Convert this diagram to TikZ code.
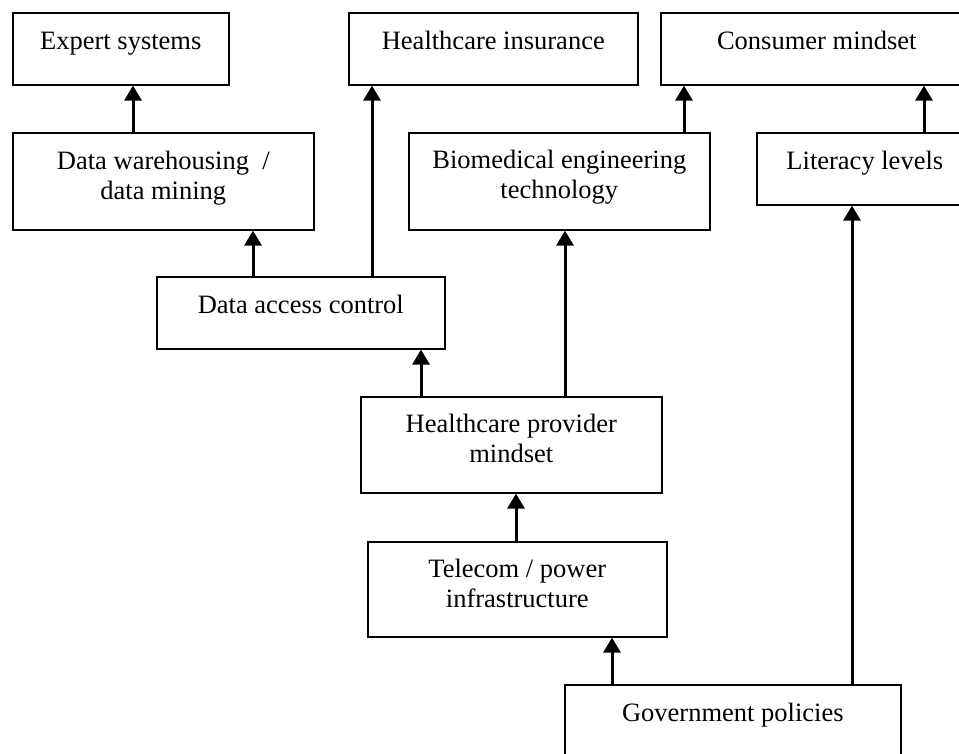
\documentclass[tikz,border=0pt]{standalone}
\usepackage{fontspec}
\setmainfont{Liberation Serif}
\usetikzlibrary{arrows.meta}
\begin{document}
\begin{tikzpicture}[x=1pt,y=-1pt,
  box/.style={draw=black,line width=1.6pt,inner sep=0pt,anchor=north west},
  lbl/.style={inner sep=0pt,align=center,anchor=base,
    font=\fontsize{26.5pt}{29.5pt}\selectfont},
  arr/.style={line width=3pt,-{Triangle[width=17pt,length=15pt]}},
  ln/.style={line width=3pt}]
\useasboundingbox (0,0) rectangle (959,753);
\clip (0,0) rectangle (959,753);
% boxes
\node[box,minimum width=216,minimum height=72] (ex) at (12,12) {};
\node[box,minimum width=289,minimum height=72] (hi) at (348,12) {};
\node[box,minimum width=312,minimum height=72] (cm) at (660,12) {};
\node[box,minimum width=301,minimum height=97] (dw) at (12,132) {};
\node[box,minimum width=301,minimum height=97] (bio) at (408,132) {};
\node[box,minimum width=216,minimum height=72] (lit) at (756,132) {};
\node[box,minimum width=288,minimum height=72] (dac) at (156,276) {};
\node[box,minimum width=301,minimum height=96] (hpm) at (360,396) {};
\node[box,minimum width=299,minimum height=95] (tel) at (367,541) {};
\node[box,minimum width=336,minimum height=90] (gov) at (564,684) {};
% labels (base anchor = last line)
\node[lbl] (ex-t) at ([yshift=-37pt]ex.north) {Expert systems};
\node[lbl] (hi-t) at ([yshift=-37pt]hi.north) {Healthcare insurance};
\node[lbl] (cm-t) at ([yshift=-37pt]cm.north) {Consumer mindset};
\node[lbl] (dw-t) at ([yshift=-67pt]dw.north) {Data warehousing~~/\\data mining};
\node[lbl] (bio-t) at ([yshift=-66pt]bio.north) {Biomedical engineering\\technology};
\node[lbl] (lit-t) at ([yshift=-37pt]lit.north) {Literacy levels};
\node[lbl] (dac-t) at ([yshift=-37pt]dac.north) {Data access control};
\node[lbl] (hpm-t) at ([yshift=-66pt]hpm.north) {Healthcare provider\\mindset};
\node[lbl] (tel-t) at ([yshift=-66pt]tel.north) {Telecom / power\\infrastructure};
\node[lbl] (gov-t) at ([yshift=-37pt]gov.north) {Government policies};
% connector x positions
\coordinate (xa) at (133,0);
\coordinate (xb) at (253,0);
\coordinate (xc) at (372,0);
\coordinate (xd) at (421,0);
\coordinate (xe) at (565,0);
\coordinate (xf) at (684,0);
\coordinate (xg) at (924,0);
\coordinate (xh) at (852,0);
\coordinate (xi) at (516,0);
\coordinate (xj) at (612,0);
% connectors
\draw[arr] (dw.north -| xa) -- (ex.south -| xa);
\draw[arr] (dac.north -| xb) -- (dw.south -| xb);
\draw[arr] (dac.north -| xc) -- (hi.south -| xc);
\draw[arr] (hpm.north -| xd) -- (dac.south -| xd);
\draw[arr] (hpm.north -| xe) -- (bio.south -| xe);
\draw[arr] (bio.north -| xf) -- (cm.south -| xf);
\draw[arr] (lit.north -| xg) -- (cm.south -| xg);
\draw[arr] (gov.north -| xh) -- (lit.south -| xh);
\draw[arr] (tel.north -| xi) -- (hpm.south -| xi);
\draw[arr] (gov.north -| xj) -- (tel.south -| xj);
\end{tikzpicture}
\end{document}
